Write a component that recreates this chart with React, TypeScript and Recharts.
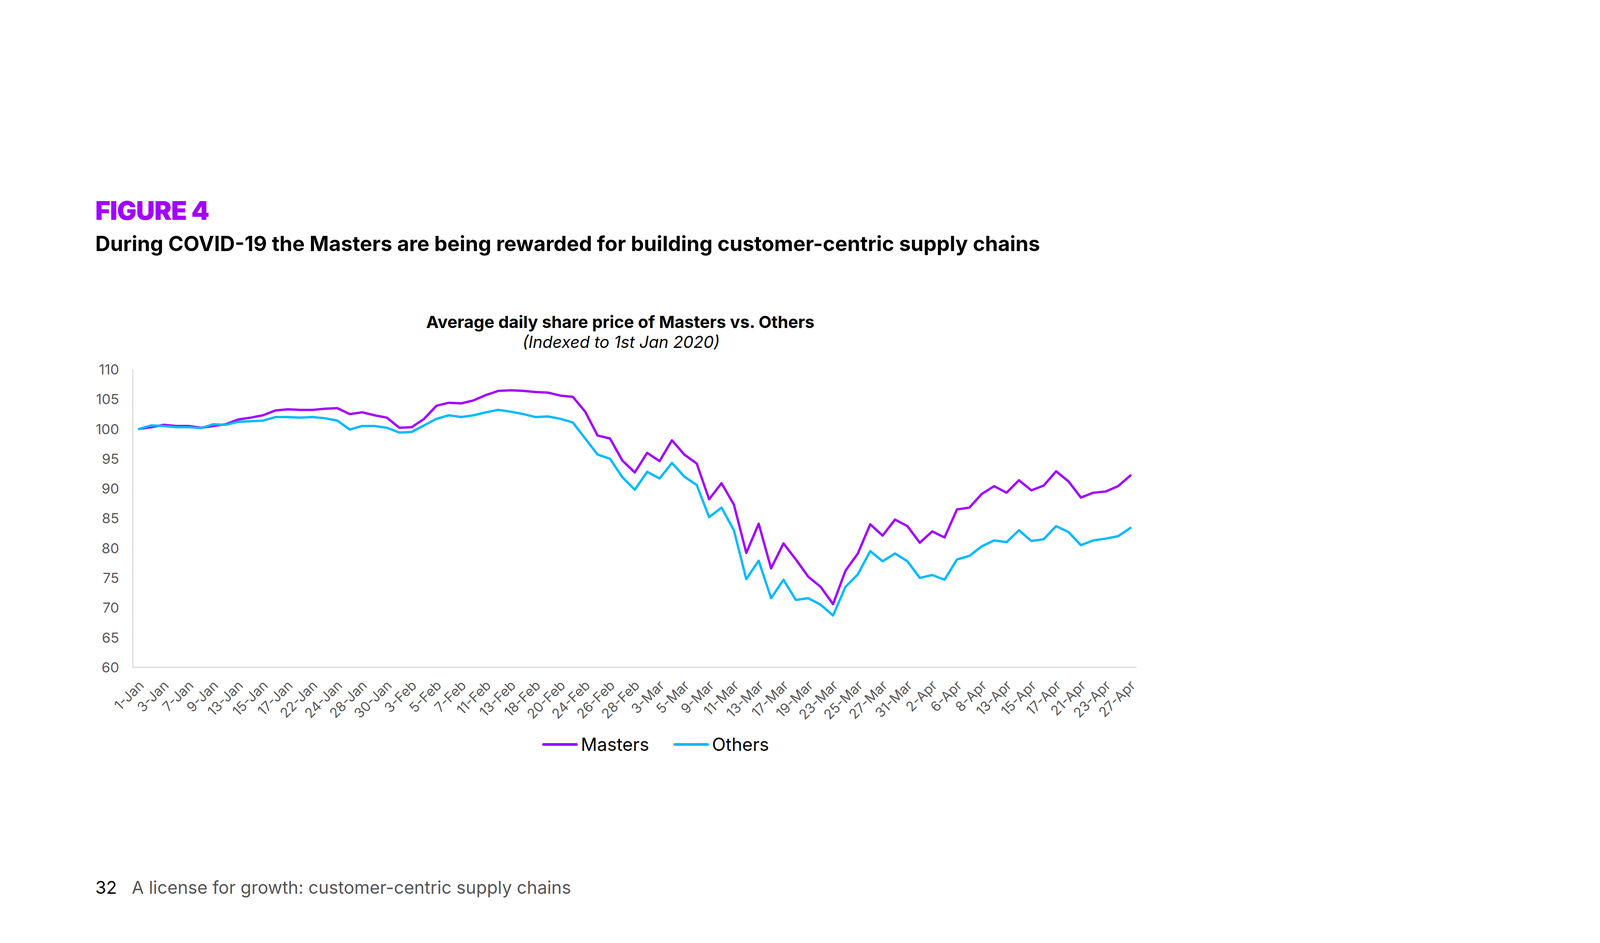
import React from 'react';
import { LineChart, Line, XAxis, YAxis } from 'recharts';

const dates: string[] = [
  '1-Jan','2-Jan','3-Jan','6-Jan','7-Jan','8-Jan','9-Jan','10-Jan','13-Jan','14-Jan','15-Jan','16-Jan','17-Jan','21-Jan','22-Jan','23-Jan','24-Jan','27-Jan','28-Jan','29-Jan','30-Jan','31-Jan',
  '3-Feb','4-Feb','5-Feb','6-Feb','7-Feb','10-Feb','11-Feb','12-Feb','13-Feb','14-Feb','18-Feb','19-Feb','20-Feb','21-Feb','24-Feb','25-Feb','26-Feb','27-Feb','28-Feb',
  '2-Mar','3-Mar','4-Mar','5-Mar','6-Mar','9-Mar','10-Mar','11-Mar','12-Mar','13-Mar','16-Mar','17-Mar','18-Mar','19-Mar','20-Mar','23-Mar','24-Mar','25-Mar','26-Mar','27-Mar','30-Mar','31-Mar',
  '1-Apr','2-Apr','3-Apr','6-Apr','7-Apr','8-Apr','9-Apr','13-Apr','14-Apr','15-Apr','16-Apr','17-Apr','20-Apr','21-Apr','22-Apr','23-Apr','24-Apr','27-Apr',
];

const masters: number[] = [
  100, 100.3, 100.7, 100.5, 100.5, 100.2, 100.5, 100.8, 101.6, 101.9, 102.3, 103.1, 103.3, 103.2, 103.2, 103.4, 103.5, 102.5, 102.8, 102.3, 101.9, 100.2,
  100.3, 101.7, 103.9, 104.4, 104.3, 104.8, 105.7, 106.4, 106.5, 106.4, 106.2, 106.1, 105.6, 105.4, 102.9, 98.9, 98.4, 94.7, 92.7,
  96.0, 94.6, 98.1, 95.7, 94.2, 88.2, 90.9, 87.3, 79.2, 84.1, 76.6, 80.8, 78.1, 75.2, 73.5, 70.6, 76.2, 79.1, 84.0, 82.1, 84.8, 83.7,
  80.9, 82.8, 81.8, 86.5, 86.8, 89.1, 90.4, 89.3, 91.4, 89.7, 90.5, 92.9, 91.2, 88.5, 89.3, 89.5, 90.4, 92.2,
];

const others: number[] = [
  100, 100.6, 100.5, 100.3, 100.3, 100.15, 100.8, 100.7, 101.2, 101.3, 101.4, 102.0, 102.0, 101.9, 102.0, 101.8, 101.4, 99.9, 100.5, 100.5, 100.2, 99.4,
  99.5, 100.6, 101.7, 102.3, 102.0, 102.3, 102.8, 103.2, 102.9, 102.5, 102.0, 102.1, 101.7, 101.1, 98.4, 95.7, 95.0, 91.9, 89.8,
  92.8, 91.7, 94.3, 92.0, 90.6, 85.2, 86.8, 83.0, 74.8, 77.9, 71.6, 74.7, 71.3, 71.6, 70.5, 68.7, 73.5, 75.6, 79.5, 77.8, 79.1, 77.8,
  75.0, 75.5, 74.7, 78.1, 78.7, 80.3, 81.3, 81.0, 83.0, 81.2, 81.5, 83.7, 82.7, 80.5, 81.3, 81.6, 82.0, 83.4,
];

const yTicks: number[] = [60, 65, 70, 75, 80, 85, 90, 95, 100, 105, 110];

const seriesNames = { masters: 'Masters', others: 'Others' };
const seriesColors = { masters: '#A100FF', others: '#00BAFF' };

const data = dates.map((d, i) => ({ date: d, masters: masters[i], others: others[i] }));

const FONT = 'Inter, "Noto Sans", Roboto, sans-serif';
const TICK_COLOR = '#595959';

const XTick = (props: any) => {
  const { x, y, payload } = props;
  return (
    <g transform={`translate(${x + 6},${y + 40}) rotate(-45)`}>
      <text x={0} y={0} dy="0.35em" textAnchor="end" fill={TICK_COLOR} fontSize={35} fontFamily={FONT}>
        {payload.value}
      </text>
    </g>
  );
};

const YTick = (props: any) => {
  const { x, y, payload } = props;
  return (
    <text x={x} y={y} dy="0.36em" textAnchor="end" fill={TICK_COLOR} fontSize={36} fontFamily={FONT}>
      {payload.value}
    </text>
  );
};

export default function App() {
  const W = 4293;
  const H = 2415;
  const chartH = 2000;
  const xAxisH = 150;
  return (
    <div style={{ position: 'absolute', left: 0, top: 0, width: W, height: H, background: '#fff', overflow: 'hidden', fontFamily: FONT }}>
      <div style={{ position: 'absolute', left: 244, top: 504, fontSize: 66, fontWeight: 900, color: '#A100FF', lineHeight: '70px', letterSpacing: -1 }}>
        FIGURE 4
      </div>
      <div style={{ position: 'absolute', left: 244, top: 593, fontSize: 53, fontWeight: 700, color: '#000', lineHeight: '62px' }}>
        During COVID-19 the Masters are being rewarded for building customer-centric supply chains
      </div>
      <div style={{ position: 'absolute', left: 1588 - 800, width: 1600, top: 799, textAlign: 'center', fontSize: 43, fontWeight: 700, color: '#000', lineHeight: '50px' }}>
        Average daily share price of Masters vs. Others
      </div>
      <div style={{ position: 'absolute', left: 1590 - 800, width: 1600, top: 851, textAlign: 'center', fontSize: 42, fontStyle: 'italic', fontWeight: 400, color: '#000', lineHeight: '50px' }}>
        (Indexed to 1st Jan 2020)
      </div>

      <div style={{ position: 'absolute', left: 0, top: 0 }}>
        <LineChart
          width={W}
          height={chartH}
          data={data}
          margin={{ top: 946, right: W - 2910, left: 0, bottom: chartH - 1709 - xAxisH }}
        >
          <XAxis
            dataKey="date"
            interval={1}
            height={xAxisH}
            tickLine={false}
            tickSize={0}
            tickMargin={0}
            axisLine={{ stroke: '#D9D9D9', strokeWidth: 3 }}
            padding={{ left: 16, right: 16 }}
            tick={<XTick />}
          />
          <YAxis
            domain={[60, 110]}
            ticks={yTicks}
            width={340}
            tickLine={false}
            tickSize={0}
            tickMargin={35}
            axisLine={{ stroke: '#D9D9D9', strokeWidth: 3 }}
            tick={<YTick />}
            allowDataOverflow
          />
          <Line type="linear" dataKey="masters" name={seriesNames.masters} stroke={seriesColors.masters} strokeWidth={6} dot={false} isAnimationActive={false} strokeLinejoin="round" strokeLinecap="round" />
          <Line type="linear" dataKey="others" name={seriesNames.others} stroke={seriesColors.others} strokeWidth={6} dot={false} isAnimationActive={false} strokeLinejoin="round" strokeLinecap="round" />
        </LineChart>
      </div>

      {/* Legend */}
      <div style={{ position: 'absolute', left: 1388, top: 1906 - 30, height: 60, display: 'flex', alignItems: 'center', fontSize: 46, color: '#000' }}>
        {(['masters', 'others'] as const).map((k, idx) => (
          <div key={k} style={{ display: 'flex', alignItems: 'center', marginLeft: idx === 0 ? 0 : 62 }}>
            <div style={{ width: 91, height: 7, borderRadius: 4, background: seriesColors[k] }} />
            <span style={{ marginLeft: 8 }}>{seriesNames[k]}</span>
          </div>
        ))}
      </div>

      {/* Footer */}
      <div style={{ position: 'absolute', left: 244, top: 2273 - 29, fontSize: 45, lineHeight: '58px', color: '#555' }}>
        <span style={{ color: '#000' }}>32</span>
        <span style={{ marginLeft: 38 }}>A license for growth: customer-centric supply chains</span>
      </div>
    </div>
  );
}
